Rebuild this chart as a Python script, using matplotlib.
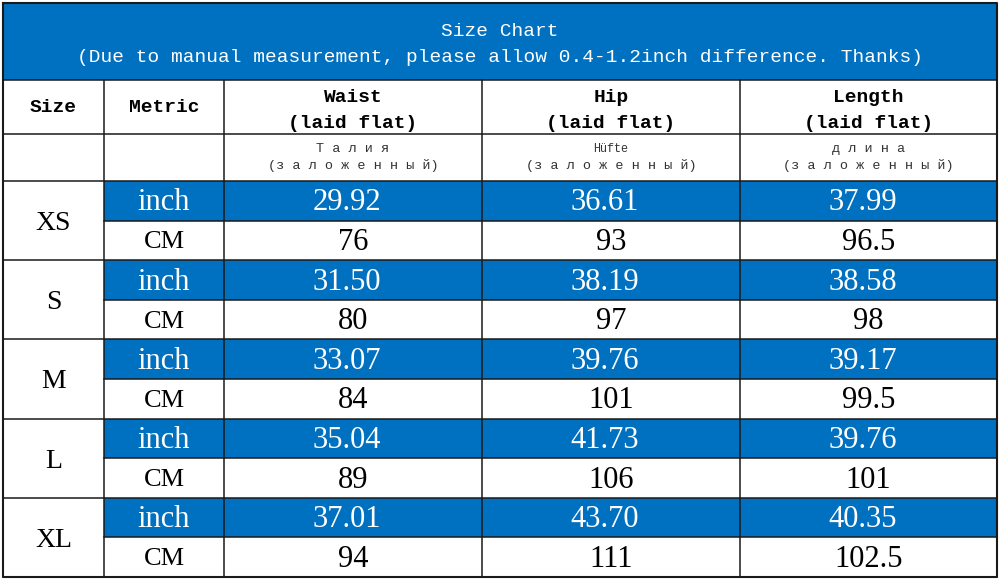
"""Size chart table, drawn with matplotlib."""
import matplotlib.pyplot as plt

SIZES = ['XS', 'S', 'M', 'L', 'XL']
METRICS = ['inch', 'CM']
COLUMNS = ['Waist', 'Hip', 'Length']
COLUMNS_RU = ['Т а л и я', 'Hüfte', 'д л и н а']
WAIST_INCH = [29.92, 31.50, 33.07, 35.04, 37.01]
WAIST_CM = [76, 80, 84, 89, 94]
HIP_INCH = [36.61, 38.19, 39.76, 41.73, 43.70]
HIP_CM = [93, 97, 101, 106, 111]
LENGTH_INCH = [37.99, 38.58, 39.17, 39.76, 40.35]
LENGTH_CM = [96.5, 98, 99.5, 101, 102.5]

TITLE = 'Size Chart'
NOTE = '(Due to manual measurement, please allow 0.4-1.2inch difference. Thanks)'

BLUE = '#0070C0'
LINE = '#1a1a1a'
MONO = 'Liberation Mono'
SERIF = 'Liberation Serif'

# layout in pixels
XS_ = [3, 104, 224, 482, 740, 997]
TOP, HEAD1, HEAD2, BODY, BOTTOM = 3, 80, 134, 181, 577
block_h = (BOTTOM - BODY) / len(SIZES)

fig = plt.figure(figsize=(10, 5.82), dpi=100)
ax = fig.add_axes([0, 0, 1, 1])
ax.set_xlim(0, 1000)
ax.set_ylim(582, 0)
ax.axis('off')


def rect(x0, y0, x1, y1, color):
    ax.fill_between([x0, x1], y0, y1, color=color, lw=0, zorder=1)


# title band
rect(XS_[0], TOP, XS_[-1], HEAD1, BLUE)
ax.text(500, 31, TITLE, color='white', fontsize=14, family=MONO,
        ha='center', va='center')
ax.text(500, 58, NOTE, color='white', fontsize=14, family=MONO,
        ha='center', va='center')

# column headers
ax.text((XS_[0] + XS_[1]) / 2, 108, 'Size', fontsize=14, family=MONO,
        weight='bold', ha='center', va='center')
ax.text((XS_[1] + XS_[2]) / 2, 108, 'Metric', fontsize=14, family=MONO,
        weight='bold', ha='center', va='center')
for i, (name, ru) in enumerate(zip(COLUMNS, COLUMNS_RU)):
    cx = (XS_[i + 2] + XS_[i + 3]) / 2
    ax.text(cx, 97, name, fontsize=14, family=MONO, weight='bold',
            ha='center', va='center')
    ax.text(cx, 123, '(laid flat)', fontsize=14, family=MONO, weight='bold',
            ha='center', va='center')
    ax.text(cx, 149, ru, fontsize=9.7 if ru != 'Hüfte' else 8.5,
            family=MONO, color='#333333', ha='center', va='center')
    ax.text(cx, 166, '(з а л о ж е н н ы й)', fontsize=9.7, family=MONO,
            color='#333333', ha='center', va='center')

# body
inch_cols = [WAIST_INCH, HIP_INCH, LENGTH_INCH]
cm_cols = [WAIST_CM, HIP_CM, LENGTH_CM]
for r, size in enumerate(SIZES):
    y0 = BODY + r * block_h
    ym = y0 + block_h / 2
    y1 = y0 + block_h
    rect(XS_[1], y0, XS_[-1], ym, BLUE)
    ax.text((XS_[0] + XS_[1]) / 2, ym + 3, size, fontsize=20, family=SERIF,
            ha='center', va='center')
    ax.text((XS_[1] + XS_[2]) / 2, (y0 + ym) / 2 + 2, METRICS[0], fontsize=22,
            family=SERIF, color='white', ha='center', va='center')
    ax.text((XS_[1] + XS_[2]) / 2, (ym + y1) / 2 + 2, METRICS[1], fontsize=19,
            family=SERIF, ha='center', va='center')
    for c in range(3):
        cx = (XS_[c + 2] + XS_[c + 3]) / 2
        ax.text(cx - 6, (y0 + ym) / 2 + 2, f'{inch_cols[c][r]:.2f}',
                fontsize=22, family=SERIF, color='white',
                ha='center', va='center')
        ax.text(cx, (ym + y1) / 2 + 2, f'{cm_cols[c][r]:g}',
                fontsize=22, family=SERIF, ha='center', va='center')
    # grid lines inside the block
    ax.plot([XS_[1], XS_[-1]], [ym, ym], color=LINE, lw=1.1, zorder=3)
    ax.plot([XS_[0], XS_[-1]], [y1, y1], color=LINE, lw=1.1, zorder=3)

# horizontal header lines
for y in [HEAD1, HEAD2, BODY]:
    ax.plot([XS_[0], XS_[-1]], [y, y], color=LINE, lw=1.1, zorder=3)
# vertical lines
for x in XS_[1:-1]:
    ax.plot([x, x], [HEAD1, BOTTOM], color=LINE, lw=1.1, zorder=3)
# outer border
ax.plot([XS_[0], XS_[-1], XS_[-1], XS_[0], XS_[0]],
        [TOP, TOP, BOTTOM, BOTTOM, TOP], color=LINE, lw=1.5, zorder=4)

fig.savefig('out.png', dpi=100)
